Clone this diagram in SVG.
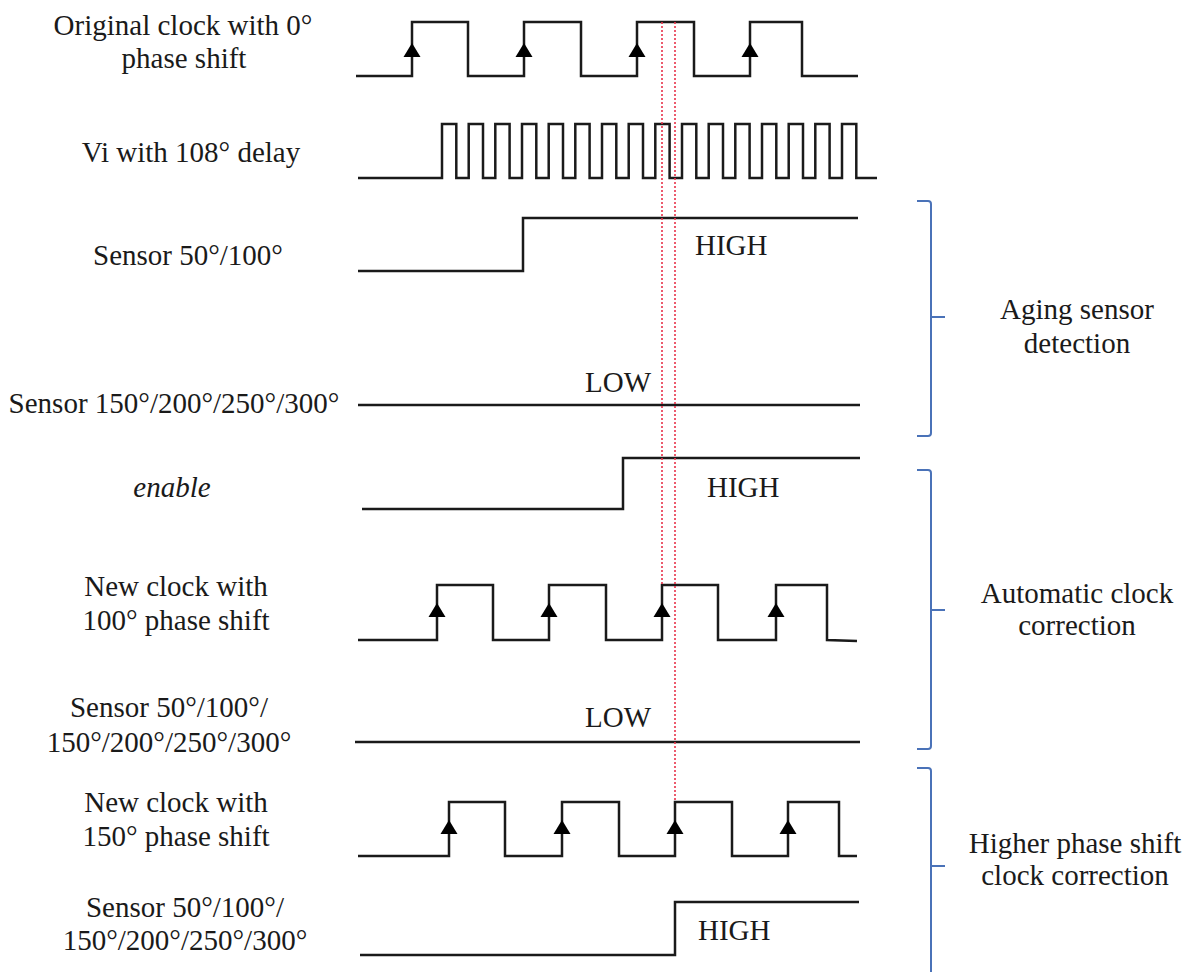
<svg xmlns="http://www.w3.org/2000/svg" width="1194" height="972" viewBox="0 0 1194 972">
<style>
.t{font-family:"Liberation Serif","Times New Roman",serif;font-size:29px;fill:#1a1a1a;text-anchor:middle}
.s{font-family:"Liberation Serif","Times New Roman",serif;font-size:29px;fill:#1a1a1a}
.w{fill:none;stroke:#1a1a1a;stroke-width:2.5;stroke-linejoin:miter}
.r{fill:none;stroke:#e8324a;stroke-width:1.6;stroke-dasharray:2 2}
.b{fill:none;stroke:#4a72b8;stroke-width:2}
.a{fill:#000}
</style>
<defs>
<polygon id="arr" points="0,0 -8.5,14 8.5,14" class="a"/>
</defs>
<rect width="1194" height="972" fill="#fff"/>

<g id="row-original-clock">
<text class="t" x="183" y="35">Original clock with 0°</text>
<text class="t" x="184" y="68">phase shift</text>
<path class="w" d="M356 76 H412 V22 H468 V76 H524 V22 H581 V76 H637 V22 H694 V76 H750 V22 H802 V76 H858"/>
<use href="#arr" x="412" y="43"/><use href="#arr" x="524" y="43"/><use href="#arr" x="637" y="43"/><use href="#arr" x="750" y="43"/>
</g>

<g id="row-vi">
<text class="t" x="191" y="162">Vi with 108° delay</text>
<path class="w" d="M358 178 H442 V124 H456.3 V178 H468.7 V124 H483 V178 H495.3 V124 H509.6 V178 H522 V124 H536.3 V178 H548.7 V124 H563 V178 H575.3 V124 H589.6 V178 H602 V124 H616.3 V178 H628.7 V124 H643 V178 H655.3 V124 H669.6 V178 H682 V124 H696.3 V178 H708.7 V124 H723 V178 H735.3 V124 H749.6 V178 H762 V124 H776.3 V178 H788.7 V124 H803 V178 H815.3 V124 H829.6 V178 H842 V124 H856.3 V178 H877"/>
</g>

<g id="row-sensor-50-100">
<text class="t" x="188" y="265">Sensor 50°/100°</text>
<path class="w" d="M358 271 H523 V218 H858"/>
<text class="s" x="695" y="255">HIGH</text>
</g>

<g id="row-sensor-150-300">
<text class="t" x="174" y="413">Sensor 150°/200°/250°/300°</text>
<path class="w" d="M358 405 H860"/>
<text class="s" x="585" y="392">LOW</text>
</g>

<g id="row-enable">
<text class="t" x="172" y="497" font-style="italic">enable</text>
<path class="w" d="M362 509 H623 V458 H860"/>
<text class="s" x="707" y="497">HIGH</text>
</g>

<g id="row-new-clock-100">
<text class="t" x="176" y="596">New clock with</text>
<text class="t" x="176" y="630">100° phase shift</text>
<path class="w" d="M358 640 H437 V585 H493 V640 H549 V585 H606 V640 H662 V585 H718 V640 H776 V585 H827 V640 L857 641"/>
<use href="#arr" x="437" y="603"/><use href="#arr" x="549" y="603"/><use href="#arr" x="662" y="603"/><use href="#arr" x="776" y="603"/>
</g>

<g id="row-sensor-all-low">
<text class="t" x="169" y="717">Sensor 50°/100°/</text>
<text class="t" x="169" y="752">150°/200°/250°/300°</text>
<path class="w" d="M355 742 H860"/>
<text class="s" x="585" y="727">LOW</text>
</g>

<g id="row-new-clock-150">
<text class="t" x="176" y="812">New clock with</text>
<text class="t" x="176" y="846">150° phase shift</text>
<path class="w" d="M358 856 H449 V802 H505 V856 H562 V802 H619 V856 H675 V802 H732 V856 H788 V802 H839 V856 H857"/>
<use href="#arr" x="449" y="820"/><use href="#arr" x="562" y="820"/><use href="#arr" x="675" y="820"/><use href="#arr" x="788" y="820"/>
</g>

<g id="row-sensor-all-high">
<text class="t" x="185" y="917">Sensor 50°/100°/</text>
<text class="t" x="185" y="950">150°/200°/250°/300°</text>
<path class="w" d="M360 955 H675 V902 H859"/>
<text class="s" x="698" y="940">HIGH</text>
</g>

<g id="connectors">
<path class="r" d="M662 22 V585"/>
<path class="r" d="M675 22 V802"/>
</g>

<g id="bracket-aging">
<path class="b" d="M917 201 H928 Q931 201 931 204 V433 Q931 436 928 436 H917 M931 317 H945"/>
<text class="t" x="1077" y="319">Aging sensor</text>
<text class="t" x="1077" y="353">detection</text>
</g>

<g id="bracket-automatic">
<path class="b" d="M917 470 H928 Q931 470 931 473 V746 Q931 749 928 749 H917 M931 610 H945"/>
<text class="t" x="1077" y="603">Automatic clock</text>
<text class="t" x="1077" y="635">correction</text>
</g>

<g id="bracket-higher">
<path class="b" d="M917 768 H928 Q931 768 931 771 V972 M931 866 H945"/>
<text class="t" x="1075" y="853">Higher phase shift</text>
<text class="t" x="1075" y="885">clock correction</text>
</g>
</svg>
